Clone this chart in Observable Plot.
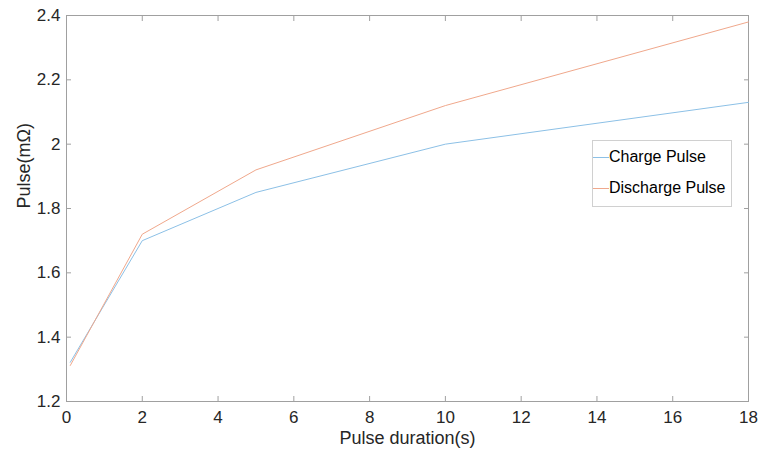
<!DOCTYPE html>
<html>
<head>
<meta charset="utf-8">
<script src="https://cdn.jsdelivr.net/npm/d3@7"></script>
<script src="https://cdn.jsdelivr.net/npm/@observablehq/plot@0.6"></script>
<style>
  html, body { margin: 0; padding: 0; background: #fff; }
  #wrap { position: relative; width: 761px; height: 457px; font-family: "Liberation Sans", Arial, sans-serif; }
  #legend { position: absolute; left: 592px; top: 140px; width: 140px; height: 67px; border: 1px solid #d0d0d0; background: #fff; box-sizing: border-box; font-size: 16px; color: #000; }
  .item { position: absolute; left: 0; display: flex; align-items: center; line-height: 18px; }
  .sw { width: 16px; height: 0; border-top: 1px solid; margin-right: 0; }
</style>
</head>
<body>
<div id="wrap"></div>
<script>
const pulseDuration = [0.1, 2, 5, 10, 18];
const chargePulse = [1.322, 1.70, 1.85, 2.00, 2.13];
const dischargePulse = [1.312, 1.72, 1.92, 2.12, 2.38];
const seriesNames = ["Charge Pulse", "Discharge Pulse"];
const seriesColors = ["#8cc0e6", "#f0a88c"];
const xTicks = [0, 2, 4, 6, 8, 10, 12, 14, 16, 18];
const yTicks = [1.2, 1.4, 1.6, 1.8, 2.0, 2.2, 2.4];

const rows = [];
pulseDuration.forEach((x, i) => {
  rows.push({x, y: chargePulse[i], s: seriesNames[0]});
  rows.push({x, y: dischargePulse[i], s: seriesNames[1]});
});

const fmt = d => String(+d.toFixed(1));
const axisCol = "#a0a0a0";
const textCol = "#262626";

const chart = Plot.plot({
  width: 761,
  height: 457,
  marginLeft: 66,
  marginTop: 15,
  marginRight: 13,
  marginBottom: 56,
  style: { fontFamily: "Liberation Sans, Arial, sans-serif", fontSize: "17px", color: textCol, background: "#fff" },
  x: { domain: [0, 18] },
  y: { domain: [1.2, 2.4] },
  color: { domain: seriesNames, range: seriesColors },
  marks: [
    Plot.frame({ stroke: axisCol }),
    Plot.axisX({ ticks: xTicks, tickSize: 0, tickPadding: 9, tickFormat: fmt, fill: textCol, label: null }),
    Plot.axisX({ ticks: xTicks, tickSize: -5, tickFormat: null, text: null, stroke: axisCol, label: null }),
    Plot.axisX({ anchor: "top", ticks: xTicks, tickSize: -5, tickFormat: null, text: null, stroke: axisCol, label: null }),
    Plot.axisY({ ticks: yTicks, tickSize: 0, tickPadding: 6, tickFormat: fmt, fill: textCol, label: null }),
    Plot.axisY({ ticks: yTicks, tickSize: -5, tickFormat: null, text: null, stroke: axisCol, label: null }),
    Plot.axisY({ anchor: "right", ticks: yTicks, tickSize: -5, tickFormat: null, text: null, stroke: axisCol, label: null }),
    Plot.line(rows, { x: "x", y: "y", z: "s", stroke: "s", strokeWidth: 1 }),
    Plot.text(["Pulse duration(s)"], { frameAnchor: "bottom", dy: 42, text: d => d, fontSize: 18, fill: textCol }),
    Plot.text(["Pulse(mΩ)"], { frameAnchor: "left", dx: -42, rotate: -90, text: d => d, fontSize: 18, fill: textCol })
  ]
});

const wrap = document.getElementById("wrap");
wrap.appendChild(chart);
const legend = document.createElement("div");
legend.id = "legend";
seriesNames.forEach((name, i) => {
  const it = document.createElement("div");
  it.className = "item";
  it.style.top = (i === 0 ? 7 : 38) + "px";
  const sw = document.createElement("span");
  sw.className = "sw";
  sw.style.borderColor = seriesColors[i];
  const t = document.createElement("span");
  t.textContent = name;
  it.appendChild(sw);
  it.appendChild(t);
  legend.appendChild(it);
});
wrap.appendChild(legend);
</script>
</body>
</html>
